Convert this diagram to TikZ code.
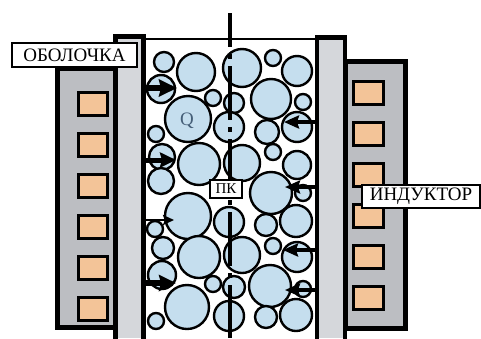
\documentclass[tikz,border=0pt]{standalone}
\usepackage{fontspec}
\setmainfont{Liberation Serif}
\usetikzlibrary{arrows.meta}
\definecolor{bubble}{RGB}{197,222,238}
\definecolor{coil}{RGB}{243,196,152}
\definecolor{inductgray}{RGB}{188,190,194}
\definecolor{shellgray}{RGB}{213,215,219}
\definecolor{qcolor}{RGB}{70,95,120}
\begin{document}
\begin{tikzpicture}[x=1pt,y=-1pt,
  inductor/.style={fill=inductgray,draw=black,line width=5pt},
  shellwall/.style={fill=shellgray},
  wallline/.style={line width=4.5pt,draw=black},
  coilbox/.style={fill=coil,draw=black,line width=3.6pt},
  gasbubble/.style={fill=bubble,draw=black,line width=2.4pt},
  label/.style={draw=black,fill=white,line width=1.6pt,inner sep=0pt,font=\fontsize{19}{19}\selectfont},
  pushin/.style n args={3}{-{Stealth[length=#2,width=#3,inset=2pt]},line width=#1},
  axisline/.style={line width=3.2pt,dash pattern=on 54pt off 7pt on 5pt off 7pt,dash phase=20pt}
]
\useasboundingbox (0,0) rectangle (481,338);

% inductors
\draw[inductor] (57,68) rectangle (117,327);
\draw[inductor] (345,61) rectangle (405,328);
% coil turns
\foreach \t in {91,132,173,214,255,296}
  \draw[coilbox] (78.5,\t+1.5) rectangle (107.5,\t+24.5);
\foreach \t in {80,121,162,203,244,285}
  \draw[coilbox] (353.5,\t+1.5) rectangle (383.5,\t+24.5);

% shell walls
\fill[shellwall] (115,36) rectangle (145,338);
\fill[shellwall] (315,37) rectangle (347,338);
\draw[wallline] (115.5,339) -- (115.5,36.5) -- (143.5,36.5) -- (143.5,339);
\draw[wallline] (317,339) -- (317,37.5) -- (345,37.5) -- (345,339);
% chamber top
\draw[line width=2pt] (145,38.5) -- (315,38.5);

% bubbles
\foreach \cx/\cy/\r in {
  164/62/10, 196/72/19, 242/68/19, 273/58/8, 297/71/15,
  161/89/14, 213/98/8, 234/103/10, 271/99/20, 303/102/8,
  188/119/23, 156/134/8, 229/127/15, 267/132/12, 297/127/15,
  162/157/13, 199/164/21, 242/163/18, 273/152/8, 297/165/14,
  161/181/13, 271/193/21, 303/193/8,
  188/216/23, 155/229/8, 229/222/15, 266/225/11, 296/221/16,
  163/248/11, 199/257/21, 242/255/18, 273/246/8, 297/257/15,
  162/275/14, 213/284/8, 234/287/11, 270/286/21, 303/289/8,
  187/307/22, 229/316/15, 266/317/11, 296/315/16, 156/321/8}
  \draw[gasbubble] (\cx,\cy) circle[radius=\r];

% axis of the chamber
\coordinate (axtop) at (230,13);
\coordinate (axbot) at (230,338);
\draw[axisline] (axtop) -- (axbot);

% pressure arrows from the left wall
\foreach \y/\w/\hl/\hw/\e in {88/5.5pt/18pt/17pt/177, 160/5pt/16pt/15pt/176, 220/2.6pt/11pt/10pt/174, 283/5.5pt/17pt/16pt/176} {
  \coordinate (ls\y) at (145,\y);
  \coordinate (le\y) at (\e,\y);
  \draw[pushin={\w}{\hl}{\hw}] (ls\y) -- (le\y);
}
% pressure arrows from the right wall
\foreach \y/\e in {122/284, 187/285, 250/283, 290/285} {
  \coordinate (rs\y) at (315,\y);
  \coordinate (re\y) at (\e,\y);
  \draw[pushin={4pt}{15pt}{13pt}] (rs\y) -- (re\y);
}

% labels
\node[label,minimum width=125pt,minimum height=24pt] (shell) at (74.5,55) {ОБОЛОЧКА};
\node[label,minimum width=118pt,minimum height=23pt] (ind) at (421,196.5) {ИНДУКТОР};
\node[label,minimum width=32pt,minimum height=18pt,font=\fontsize{15}{15}\selectfont] (pk) at (226,189) {ПК};
\node[text=qcolor,font=\fontsize{19}{19}\selectfont,inner sep=0pt] (q) at (187,121) {Q};
\end{tikzpicture}
\end{document}
